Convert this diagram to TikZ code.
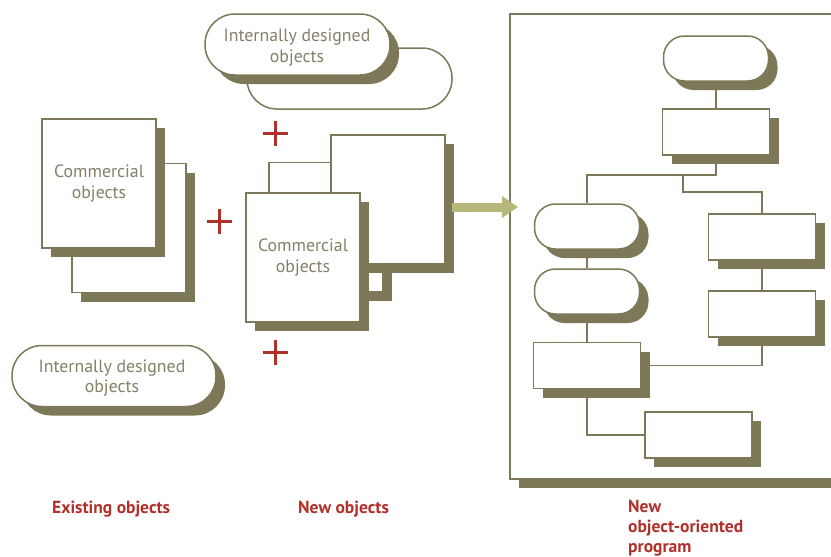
\documentclass[tikz,border=0pt]{standalone}
\usepackage{fontspec}
\setmainfont{PT Sans}
\usetikzlibrary{arrows.meta,shadows}
\definecolor{objolive}{HTML}{7D7858}
\definecolor{objtext}{HTML}{858168}
\definecolor{objred}{HTML}{B0302A}
\definecolor{objarrow}{HTML}{B5B87A}
\tikzset{
    shadowed/.style={drop shadow={shadow xshift=9pt,shadow yshift=-9pt,fill=objolive,opacity=1}},
    sheet/.style={draw=objolive,line width=1.5pt,fill=white,minimum width=114pt,minimum height=129pt,inner sep=0pt,
        text=objtext,font=\fontsize{17.8}{20.5}\selectfont,align=center},
    pill/.style={sheet,minimum height=61pt,rounded corners=30pt},
    programframe/.style={draw=objolive,line width=1.5pt,fill=white,shadowed},
    flowbox/.style={draw=objolive,line width=1.5pt,fill=white,minimum width=107pt,minimum height=46pt,shadowed},
    flowoval/.style={flowbox,minimum width=105pt,minimum height=45pt,rounded corners=21pt},
    link/.style={draw=objolive,line width=1.5pt},
    plussign/.style={minimum size=25pt,inner sep=0pt,path picture={
        \draw[objred,line width=3pt] (path picture bounding box.north) -- (path picture bounding box.south)
            (path picture bounding box.west) -- (path picture bounding box.east);}},
    caption/.style={anchor=north west,inner sep=0pt,text=objred,font=\bfseries\fontsize{17.5}{19.8}\selectfont,align=left},
    bigarrow/.style={draw=objarrow,line width=9pt,-{Triangle[length=16pt,width=21pt]}},
}
\begin{document}
\begin{tikzpicture}[x=1pt,y=-1pt]
    \path[use as bounding box,clip] (0,0) rectangle (831,557);

    \node[programframe,minimum width=335pt,minimum height=465pt] (prog) at (677.5,246.5) {};

    \node[sheet,shadowed] (oldback) at (129,228) {};
    \node[sheet,shadowed] (oldfront) at (99,183.5) {Commercial\\objects};
    \node[pill,shadowed,minimum width=204pt] (oldpill) at (114,376) {};
    \node[objtext,font=\fontsize{17.8}{20.5}\selectfont,align=center] (oldpilltext) at (112,378) {Internally designed\\objects};

    \node[pill,minimum width=205pt] (newpillback) at (349.5,78.5) {};
    \node[pill,shadowed,minimum width=185pt] (newpill) at (297.5,44.5) {};
    \node[objtext,font=\fontsize{17.8}{20.5}\selectfont,align=center] (newpilltext) at (297,47.5) {Internally designed\\objects};

    \node[sheet,shadowed] (newmid) at (326,227) {};
    \node[sheet,shadowed] (newback) at (388,199.5) {};
    \node[sheet,shadowed] (newfront) at (303,257.5) {Commercial\\objects};

    \node[plussign] (plusleft) at (219.5,221) {};
    \node[plussign] (plustop) at (275.5,133) {};
    \node[plussign] (plusbottom) at (275.5,352) {};

    \coordinate (arrowtip) at (518,207);
    \draw[bigarrow] ([shift={(6,7.5)}]newback.east) -- (arrowtip);

    \node[flowoval] (start) at (716,58.5) {};
    \node[flowbox] (sub) at (716,132) {};
    \node[flowoval] (leftoval) at (587,226.5) {};
    \node[flowbox] (rightbox) at (762,237) {};
    \node[flowoval] (leftovaltwo) at (587,291.5) {};
    \node[flowbox] (rightboxtwo) at (762,314) {};
    \node[flowbox] (leftbox) at (587,365.5) {};
    \node[flowbox] (lowbox) at (698.5,435) {};

    \draw[link] (start) -- (sub);
    \draw[link] (sub.south) -- ++(0,19) coordinate (fork) -| (leftoval.north);
    \draw[link] ([xshift=-33pt]fork) -- ++(0,17) -| (rightbox.north);
    \draw[link] (leftoval) -- (leftovaltwo);
    \draw[link] (leftovaltwo) -- (leftbox);
    \draw[link] (rightbox) -- (rightboxtwo);
    \draw[link] (rightboxtwo.south) |- (leftbox.east);
    \draw[link] (leftbox.south) |- (lowbox.west);

    \node[caption] (existlbl) at (52,501) {Existing objects};
    \node[caption] (newlbl) at (298,501) {New objects};
    \node[caption] (proglbl) at (628,500) {New\\object-oriented\\program};
\end{tikzpicture}
\end{document}
